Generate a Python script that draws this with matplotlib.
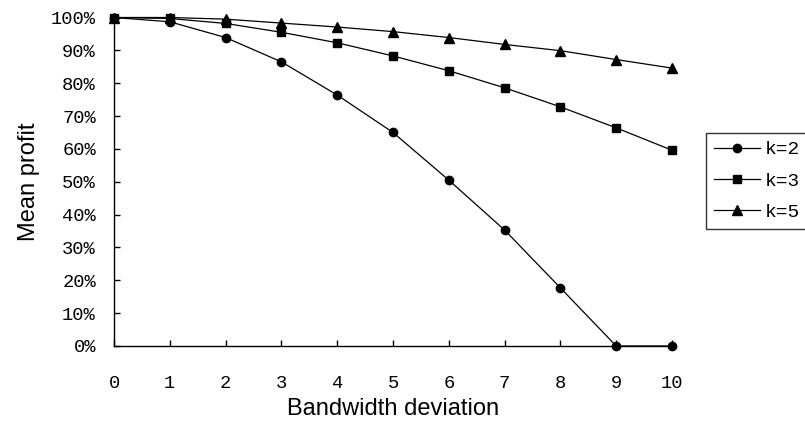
import matplotlib.pyplot as plt
from matplotlib.ticker import PercentFormatter

deviation = [0, 1, 2, 3, 4, 5, 6, 7, 8, 9, 10]
k2 = [100, 98.7, 93.9, 86.5, 76.4, 65.0, 50.5, 35.3, 17.7, 0, 0]
k3 = [100, 99.7, 98.2, 95.5, 92.3, 88.3, 83.8, 78.6, 72.8, 66.4, 59.6]
k5 = [100, 100, 99.5, 98.3, 97.1, 95.7, 93.9, 91.8, 89.9, 87.2, 84.6]

tick_font = 'Liberation Mono'
label_font = 'Liberation Sans'

fig = plt.figure(figsize=(8.05, 4.30), dpi=100)
ax = fig.add_axes([114 / 805, 1 - 346 / 430, (672 - 114) / 805, (346 - 17.5) / 430])

ax.plot(deviation, k2, color='black', lw=0.9, marker='o', ms=6, label='k=2', clip_on=False)
ax.plot(deviation, k3, color='black', lw=0.9, marker='s', ms=6, label='k=3', clip_on=False)
ax.plot(deviation, k5, color='black', lw=0.9, marker='^', ms=7, label='k=5', clip_on=False)

ax.set_xlim(0, 10)
ax.set_ylim(0, 100)
ax.set_xticks(deviation)
ax.set_yticks(range(0, 101, 10))
ax.yaxis.set_major_formatter(PercentFormatter(decimals=0))

for s in ['top', 'right']:
    ax.spines[s].set_visible(False)
for s in ['left', 'bottom']:
    ax.spines[s].set_linewidth(1.0)

ax.tick_params(axis='x', direction='in', length=4, width=1, pad=21)
ax.tick_params(axis='y', direction='in', length=4, width=1, pad=13)
for lab in ax.get_xticklabels() + ax.get_yticklabels():
    lab.set_fontfamily(tick_font)
    lab.set_fontsize(13.5)

ax.set_xlabel('Bandwidth deviation', fontsize=17, family=label_font, labelpad=4)
ax.set_ylabel('Mean profit', fontsize=17, family=label_font, labelpad=8)

leg = ax.legend(loc='upper left', bbox_to_anchor=(706 / 805, 1 - 133 / 430),
                bbox_transform=fig.transFigure, frameon=True, fancybox=False,
                handlelength=2.4, handletextpad=0.2, labelspacing=0.7,
                borderpad=0.4, borderaxespad=0,
                prop={'family': tick_font, 'size': 14})
leg.get_frame().set_edgecolor('black')
leg.get_frame().set_linewidth(1.0)

fig.savefig('out.png', dpi=100)
